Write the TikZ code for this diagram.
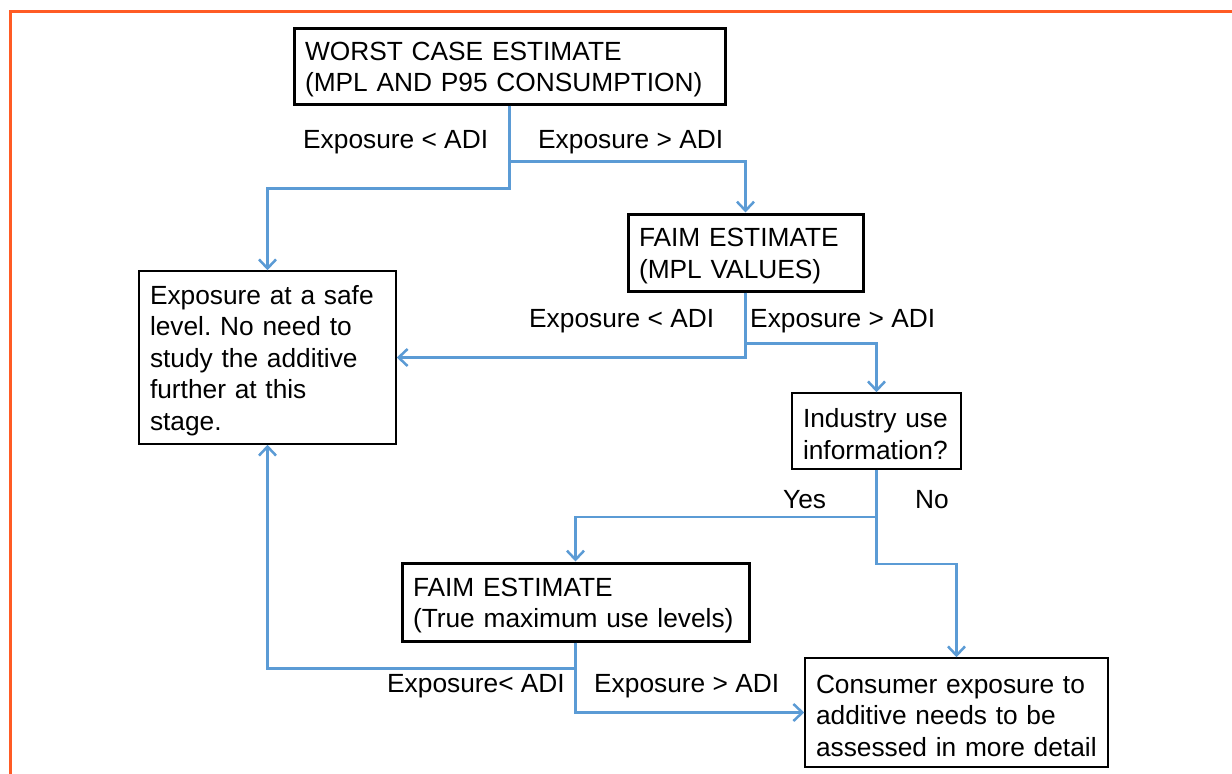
\documentclass[tikz,border=0pt]{standalone}
\usepackage{fontspec}
\setmainfont{Liberation Sans}
\usetikzlibrary{arrows.meta}
\frenchspacing
\definecolor{frameorange}{RGB}{255,91,36}
\definecolor{flowblue}{RGB}{91,155,213}
\tikzset{
  boxbase/.style={draw=black, fill=white, rectangle, anchor=center, inner xsep=11pt, inner ysep=0pt,
    align=left, font=\fontsize{26.3}{31.5}\selectfont\frenchspacing,
    execute at begin node={\rule{0pt}{25pt}}},
  thickbox/.style={boxbase, line width=3pt},
  thinbox/.style={boxbase, line width=1.5pt},
  flow/.style={draw=flowblue, line width=2.5pt, -{Straight Barb[length=9pt,width=17pt,line width=2.5pt]}},
  lbl/.style={anchor=base west, inner sep=0pt, font=\fontsize{26.3}{31.5}\selectfont}
}
\begin{document}
\begin{tikzpicture}[x=1pt,y=-1pt]
\useasboundingbox (0,0) rectangle (1232,774);
\fill[white] (0,0) rectangle (1232,774);
\draw[frameorange, line width=3pt] (10.5,780) -- (10.5,11.5) -- (1240,11.5);

\node[thickbox, text width=409pt, minimum height=76pt] (b1) at (509.5,66) {WORST CASE ESTIMATE\\(MPL AND P95 CONSUMPTION)};
\node[thickbox, text width=213pt, minimum height=77pt] (b2) at (745.5,252.5) {FAIM ESTIMATE\\(MPL VALUES)};
\node[thinbox, text width=235pt, minimum height=173pt] (b3) at (267.5,357.5) {Exposure at a safe\\level. No need to\\study the additive\\further at this\\stage.};
\node[thinbox, text width=147pt, minimum height=76pt] (b4) at (876.5,431) {Industry use\\information?};
\node[thickbox, text width=325pt, minimum height=78pt] (b5) at (575.5,602) {FAIM ESTIMATE\\(True maximum use levels)};
\node[thinbox, text width=281pt, minimum height=109pt] (b6) at (956.5,712.5) {Consumer exposure to\\additive needs to be\\assessed in more detail};

\draw[flow] (b1.south) -- ++(0,83) -| (b3.north);
\draw[flow] (b1.south) -- ++(0,56) -| (b2.north);
\draw[flow] (b2.south) |- (b3.east);
\draw[flow] (b2.south) -- ++(0,51) -| (b4.north);
\draw[flow] (b4.south) -- ++(0,47) -| (b5.north);
\draw[flow] (b4.south) -- ++(0,94) -| (b6.north);
\draw[flow] (b5.south) -- ++(0,26) -| (b3.south);
\draw[flow] (b5.south) |- (b6.west);

\node[lbl] (l1) at (303,148) {Exposure < ADI};
\node[lbl] (l2) at (538,148) {Exposure > ADI};
\node[lbl] (l3) at (529,327) {Exposure < ADI};
\node[lbl] (l4) at (750,327) {Exposure > ADI};
\node[lbl] (l5) at (783,508) {Yes};
\node[lbl] (l6) at (915,508) {No};
\node[lbl] (l7) at (387,692) {Exposure< ADI};
\node[lbl] (l8) at (594,692) {Exposure > ADI};
\end{tikzpicture}
\end{document}
